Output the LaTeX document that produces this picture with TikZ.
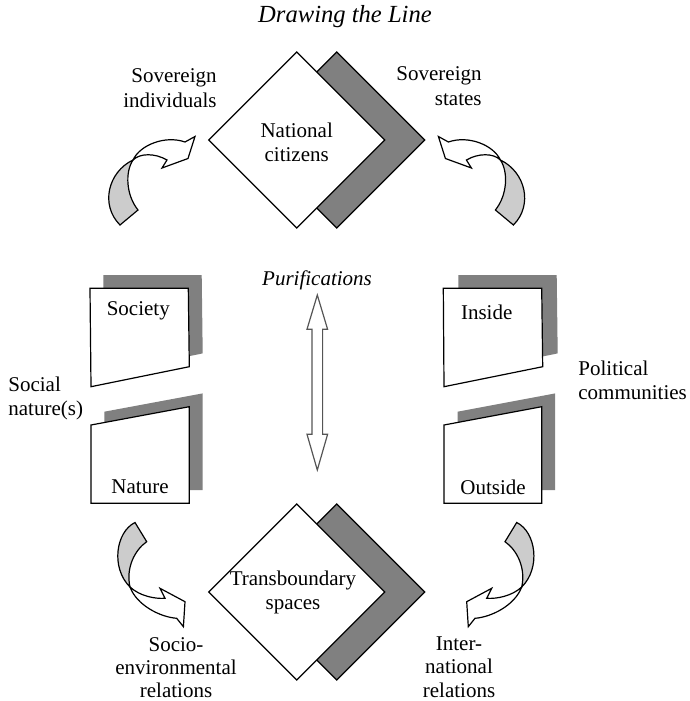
\documentclass[tikz,border=0pt]{standalone}
\usepackage{fontspec}
\setmainfont{Liberation Serif}
\definecolor{dgray}{HTML}{808080}
\definecolor{lgray}{HTML}{CCCCCC}
\definecolor{agray}{HTML}{555555}
\newcommand{\twistTL}{%
  \filldraw[outl, fill=lgray] (133,160) .. controls (108,172) and (100,205) .. (120,225) -- (138,210) .. controls (126,195) and (125,172) .. (133,160) -- cycle;
  \filldraw[outl, fill=white] (133,160) .. controls (140,145) and (165,135) .. (185,142) -- (195,136.5) -- (188,158.5) -- (162,168) -- (167,160) .. controls (155,153) and (140,153) .. (133,160) -- cycle;}
\newcommand{\twistBR}{%
  \filldraw[outl, fill=lgray] (516.7,522.5) .. controls (536,532) and (541,568) .. (521.7,587) .. controls (526,568) and (517,550) .. (505,541.7) -- cycle;
  \filldraw[outl, fill=white] (521.7,587) .. controls (512,596) and (497,599) .. (486.7,598.3) -- (491.7,588.3) -- (466.7,601.7) -- (468.3,626.7) -- (475,618.3) .. controls (492,617) and (515,605) .. (521.7,587) -- cycle;}
\begin{document}
\begin{tikzpicture}[x=0.5pt,y=-0.5pt,line join=miter,
  txt/.style={inner sep=0pt, font=\fontsize{10.5}{12}\selectfont, align=center},
  outl/.style={draw=black, line width=0.6pt},
  shade/.style={fill=dgray},
  whitebox/.style={draw=black, line width=0.6pt, fill=white}]
\useasboundingbox (0,0) rectangle (690,701);

% title
\node[txt, font=\fontsize{12.3}{14}\selectfont\itshape] (title) at (345,17) {Drawing the Line};

% top diamond
\filldraw[outl, fill=dgray] (336.7,52) -- (424.7,140) -- (336.7,228) -- (248.7,140) -- cycle;
\filldraw[outl, fill=white] (296.7,52) -- (384.7,140) -- (296.7,228) -- (208.7,140) -- cycle;
\node[txt] (natcit) at (296.7,142) {National\\citizens};

% bottom diamond
\filldraw[outl, fill=dgray] (336.7,504) -- (424.7,592) -- (336.7,680) -- (248.7,592) -- cycle;
\filldraw[outl, fill=white] (296.7,504) -- (384.7,592) -- (296.7,680) -- (208.7,592) -- cycle;
\node[txt] (trans) at (293,592) {Transboundary\\spaces};

% twisted arrows
\twistTL
\begin{scope}[shift={(633.4,0)}, xscale=-1]
\twistTL
\end{scope}
\twistBR
\begin{scope}[shift={(651.7,0)}, xscale=-1]
\twistBR
\end{scope}

% boxes left
\fill[shade] (103.3,275) -- (201.7,275) -- (202.7,353.4) -- (104.3,373.4) -- cycle;
\filldraw[whitebox] (90,288.3) -- (188.3,288.3) -- (189.3,366.7) -- (91,386.7) -- cycle;
\node[txt] (society) at (138.3,311) {Society};

\fill[shade] (104.3,411.7) -- (202.6,393.4) -- (202.6,490) -- (104.3,490) -- cycle;
\filldraw[whitebox] (91,425) -- (189.3,406.7) -- (189.3,503.3) -- (91,503.3) -- cycle;
\node[txt] (nature) at (140,487) {Nature};

% boxes right
\fill[shade] (458.3,275) -- (556.7,275) -- (557.7,353.4) -- (459,373.4) -- cycle;
\filldraw[whitebox] (443.3,288.3) -- (541.7,288.3) -- (542.7,366.7) -- (444,386.7) -- cycle;
\node[txt] (inside) at (486.7,312) {Inside};

\fill[shade] (457.5,411.7) -- (555.2,393.4) -- (555.2,490) -- (457.5,490) -- cycle;
\filldraw[whitebox] (444,425) -- (541.7,406.7) -- (541.7,503.3) -- (444,503.3) -- cycle;
\node[txt] (outside) at (493,487) {Outside};

% double arrow
\draw[draw=agray, line width=0.6pt, fill=white] (317.3,295) -- (327.6,329.3) -- (322.6,329.3) -- (322.6,434.3) -- (327.6,434.3) -- (317.3,470) -- (307,434.3) -- (312,434.3) -- (312,329.3) -- (307,329.3) -- cycle;

% labels
\node[txt, align=right, anchor=east, font=\fontsize{10.5}{12.8}\selectfont] (sovind) at (217,88) {Sovereign\\individuals};
\node[txt, align=right, anchor=east, font=\fontsize{10.5}{12.8}\selectfont] (sovst) at (482,86) {Sovereign\\states};
\node[txt, font=\fontsize{10.5}{12}\selectfont\itshape] (purif) at (317,280) {Purifications};
\node[txt, align=left, anchor=west] (socnat) at (8,398) {Social\\nature(s)};
\node[txt, align=left, anchor=west] (polcom) at (578,380) {Political\\communities};
\node[txt, font=\fontsize{10.5}{11.5}\selectfont] (socio) at (176,668) {Socio-\\environmental\\relations};
\node[txt, font=\fontsize{10.5}{11.7}\selectfont] (inter) at (459,667) {Inter-\\national\\relations};
\end{tikzpicture}
\end{document}
